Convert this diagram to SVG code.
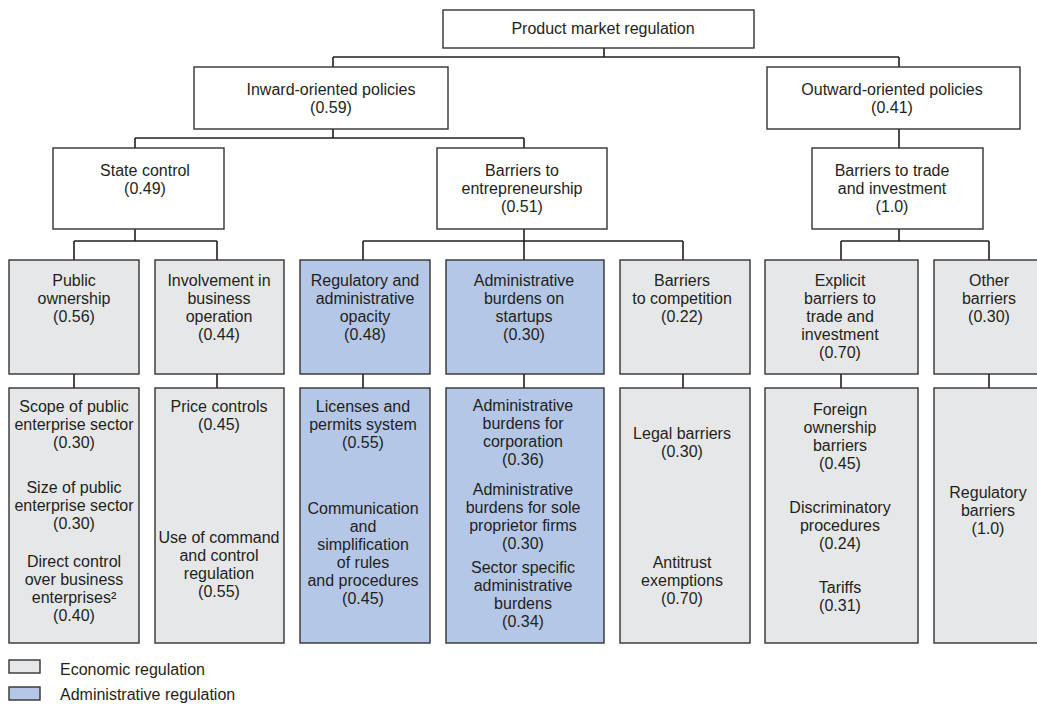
<svg xmlns="http://www.w3.org/2000/svg" width="1037" height="705" viewBox="0 0 1037 705">
<style>
.w{fill:#ffffff;stroke:#333333;stroke-width:1.4}
.g{fill:#e6e7e8;stroke:#333333;stroke-width:1.4}
.b{fill:#b4c7e7;stroke:#333333;stroke-width:1.4}
text{font-family:"Liberation Sans",Arial,sans-serif;font-size:16px;fill:#231f20;text-anchor:middle}
text.l{text-anchor:start}
#connectors path{fill:none;stroke:#231f20;stroke-width:1.6}
</style>
<rect width="1037" height="705" fill="#ffffff"/>
<g id="connectors">
<path d="M604 48V57M333 57H899M333 57V67M899 57V67"/>
<path d="M333 129V138M135 138H524M135 138V148M524 138V148"/>
<path d="M899 129V148"/>
<path d="M135 229V241M74 241H217M74 241V260M217 241V260"/>
<path d="M524 229V241M363 241H683M363 241V260M524 241V260M683 241V260"/>
<path d="M899 229V241M841 241H989M841 241V260M989 241V260"/>
<path d="M74 374V388M217 374V388M363 374V388M524 374V388M683 374V388M841 374V388M989 374V388"/>
</g>
<g id="pmr"><rect class="w" x="443" y="10" width="311" height="38"/><text x="603" y="34">Product market regulation</text></g>
<g id="inward"><rect class="w" x="194" y="67" width="254" height="62"/><text x="331" y="95">Inward-oriented policies</text><text x="331" y="113">(0.59)</text></g>
<g id="outward"><rect class="w" x="767" y="67" width="253" height="62"/><text x="892" y="95">Outward-oriented policies</text><text x="892" y="113">(0.41)</text></g>
<g id="state"><rect class="w" x="53" y="148" width="171" height="81"/><text x="145" y="176">State control</text><text x="145" y="194">(0.49)</text></g>
<g id="entre"><rect class="w" x="437" y="148" width="170" height="81"/><text x="522" y="176">Barriers to</text><text x="522" y="194">entrepreneurship</text><text x="522" y="212">(0.51)</text></g>
<g id="trade"><rect class="w" x="812" y="148" width="171" height="81"/><text x="892" y="176">Barriers to trade</text><text x="892" y="194">and investment</text><text x="892" y="212">(1.0)</text></g>
<g id="public"><rect class="g" x="9" y="260" width="130" height="114"/><text x="74" y="286">Public</text><text x="74" y="304">ownership</text><text x="74" y="322">(0.56)</text></g>
<g id="involve"><rect class="g" x="155" y="260" width="129" height="114"/><text x="219" y="286">Involvement in</text><text x="219" y="304">business</text><text x="219" y="322">operation</text><text x="219" y="340">(0.44)</text></g>
<g id="opacity"><rect class="b" x="300" y="260" width="130" height="114"/><text x="365" y="286">Regulatory and</text><text x="365" y="304">administrative</text><text x="365" y="322">opacity</text><text x="365" y="340">(0.48)</text></g>
<g id="startups"><rect class="b" x="446" y="260" width="158" height="114"/><text x="524" y="286">Administrative</text><text x="524" y="304">burdens on</text><text x="524" y="322">startups</text><text x="524" y="340">(0.30)</text></g>
<g id="competition"><rect class="g" x="620" y="260" width="130" height="114"/><text x="682" y="286">Barriers</text><text x="682" y="304">to competition</text><text x="682" y="322">(0.22)</text></g>
<g id="explicit"><rect class="g" x="765" y="260" width="153" height="114"/><text x="840" y="286">Explicit</text><text x="840" y="304">barriers to</text><text x="840" y="322">trade and</text><text x="840" y="340">investment</text><text x="840" y="358">(0.70)</text></g>
<g id="other"><rect class="g" x="934" y="260" width="130" height="114"/><text x="989" y="286">Other</text><text x="989" y="304">barriers</text><text x="989" y="322">(0.30)</text></g>
<g id="public-items"><rect class="g" x="9" y="388" width="130" height="255"/>
<text x="74" y="412">Scope of public</text><text x="74" y="430">enterprise sector</text><text x="74" y="448">(0.30)</text>
<text x="74" y="493">Size of public</text><text x="74" y="511">enterprise sector</text><text x="74" y="529">(0.30)</text>
<text x="74" y="567">Direct control</text><text x="74" y="585">over business</text><text x="74" y="603">enterprises²</text><text x="74" y="621">(0.40)</text></g>
<g id="involve-items"><rect class="g" x="155" y="388" width="129" height="255"/>
<text x="219" y="412">Price controls</text><text x="219" y="430">(0.45)</text>
<text x="219" y="543">Use of command</text><text x="219" y="561">and control</text><text x="219" y="579">regulation</text><text x="219" y="597">(0.55)</text></g>
<g id="opacity-items"><rect class="b" x="300" y="388" width="130" height="255"/>
<text x="363" y="412">Licenses and</text><text x="363" y="430">permits system</text><text x="363" y="448">(0.55)</text>
<text x="363" y="514">Communication</text><text x="363" y="532">and</text><text x="363" y="550">simplification</text><text x="363" y="568">of rules</text><text x="363" y="586">and procedures</text><text x="363" y="604">(0.45)</text></g>
<g id="startups-items"><rect class="b" x="446" y="388" width="158" height="255"/>
<text x="523" y="411">Administrative</text><text x="523" y="429">burdens for</text><text x="523" y="447">corporation</text><text x="523" y="465">(0.36)</text>
<text x="523" y="495">Administrative</text><text x="523" y="513">burdens for sole</text><text x="523" y="531">proprietor firms</text><text x="523" y="549">(0.30)</text>
<text x="523" y="573">Sector specific</text><text x="523" y="591">administrative</text><text x="523" y="609">burdens</text><text x="523" y="627">(0.34)</text></g>
<g id="competition-items"><rect class="g" x="620" y="388" width="130" height="255"/>
<text x="682" y="439">Legal barriers</text><text x="682" y="457">(0.30)</text>
<text x="682" y="568">Antitrust</text><text x="682" y="586">exemptions</text><text x="682" y="604">(0.70)</text></g>
<g id="explicit-items"><rect class="g" x="765" y="388" width="153" height="255"/>
<text x="840" y="415">Foreign</text><text x="840" y="433">ownership</text><text x="840" y="451">barriers</text><text x="840" y="469">(0.45)</text>
<text x="840" y="513">Discriminatory</text><text x="840" y="531">procedures</text><text x="840" y="549">(0.24)</text>
<text x="840" y="593">Tariffs</text><text x="840" y="611">(0.31)</text></g>
<g id="other-items"><rect class="g" x="934" y="388" width="130" height="255"/>
<text x="988" y="498">Regulatory</text><text x="988" y="516">barriers</text><text x="988" y="534">(1.0)</text></g>
<g id="legend">
<rect class="g" x="9" y="660" width="31" height="13"/><text class="l" x="60" y="675">Economic regulation</text>
<rect class="b" x="9" y="687" width="31" height="13"/><text class="l" x="60" y="700">Administrative regulation</text>
</g>
</svg>
